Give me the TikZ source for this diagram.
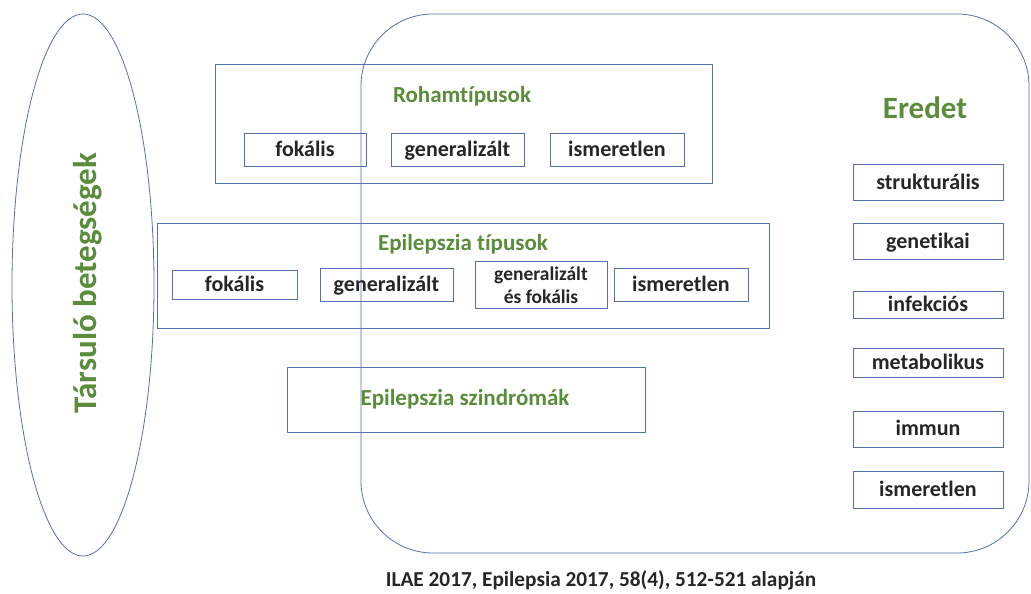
\documentclass[tikz,border=0pt]{standalone}
\usepackage{fontspec}
\setmainfont{Carlito}[Ligatures=NoCommon]
\definecolor{linec}{HTML}{5470AE}
\definecolor{greenc}{HTML}{5A8C3C}
\tikzset{
  x=1pt,y=-1pt,
  frame/.style={draw=linec, line width=0.8pt, inner sep=0pt},
  itembase/.style={draw=linec, line width=0.8pt, inner sep=0pt, align=center, text=black!85},
  item/.style={itembase, font=\bfseries\fontsize{22}{22}\selectfont, text height=15.5pt, text depth=2.5pt},
  item2/.style={itembase, font=\bfseries\fontsize{19.5}{23}\selectfont},
  title/.style={text=greenc, font=\bfseries\fontsize{23}{26}\selectfont, inner sep=0pt, text height=15pt, text depth=4pt},
}
\begin{document}
\begin{tikzpicture}
\useasboundingbox (0,0) rectangle (1031,594);
% big rounded region
\draw[linec, line width=0.8pt, rounded corners=72pt] (361,14) rectangle (1029,553);
% ellipse
\draw[linec, line width=0.8pt] (83,285) ellipse [x radius=71pt, y radius=271pt];
\node[text=greenc, font=\bfseries\fontsize{33}{36}\selectfont, rotate=90, inner sep=0pt] (tars) at (88,283) {Társuló betegségek};
% Rohamtipusok
\node[frame, minimum width=497pt, minimum height=119pt] (roham) at (463.5,123.5) {};
\node[title] (rohamt) at (462,97) {Rohamtípusok};
\node[item, minimum width=122pt, minimum height=33pt] (rfok) at (305,149.5) {fokális};
\node[item, minimum width=133pt, minimum height=33pt] (rgen) at (457.5,149.5) {generalizált};
\node[item, minimum width=134pt, minimum height=33pt] (risme) at (617,149.5) {ismeretlen};
% Epilepszia tipusok
\node[frame, minimum width=612pt, minimum height=105pt] (ept) at (463,275.5) {};
\node[title] (eptt) at (463,245) {Epilepszia típusok};
\node[item, minimum width=125pt, minimum height=29pt] (efok) at (234.5,284.5) {fokális};
\node[item, minimum width=133pt, minimum height=33pt] (egen) at (386.5,284.5) {generalizált};
\node[item2, minimum width=132pt, minimum height=47pt] (egf) at (541,285) {generalizált\\és fokális};
\node[item, minimum width=134pt, minimum height=33pt] (eisme) at (681,284.5) {ismeretlen};
% Szindromak
\node[frame, minimum width=358pt, minimum height=65pt] (szin) at (466,399.5) {};
\node[title] (szint) at (465,400) {Epilepszia szindrómák};
% Eredet
\node[text=greenc, font=\bfseries\fontsize{31}{34}\selectfont, inner sep=0pt] (ered) at (925,108) {Eredet};
\node[item, minimum width=150pt, minimum height=36pt] (o1) at (928,182.5) {strukturális};
\node[item, minimum width=150pt, minimum height=36pt] (o2) at (928,241.5) {genetikai};
\node[item, minimum width=150pt, minimum height=27pt] (o3) at (928,304.5) {infekciós};
\node[item, minimum width=150pt, minimum height=29pt] (o4) at (928,362.5) {metabolikus};
\node[item, minimum width=150pt, minimum height=36pt] (o5) at (928,429) {immun};
\node[item, minimum width=150pt, minimum height=37pt] (o6) at (928,490) {ismeretlen};
% caption
\node[font=\bfseries\fontsize{21.3}{24}\selectfont, text=black!85, inner sep=0pt] (cap) at (601,580) {ILAE 2017, Epilepsia 2017, 58(4), 512-521 alapján};
\end{tikzpicture}
\end{document}
